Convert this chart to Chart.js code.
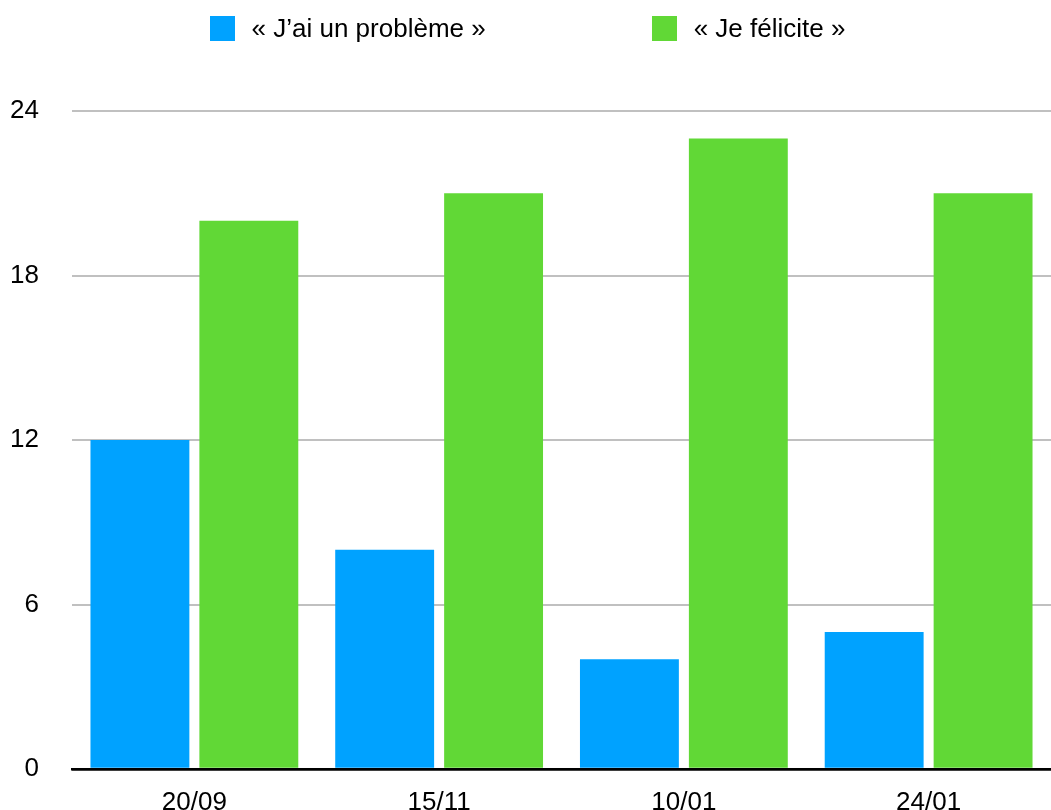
<!DOCTYPE html>
<html>
<head>
<meta charset="utf-8">
<script src="https://cdn.jsdelivr.net/npm/chart.js@4"></script>
<style>
    html, body { margin: 0; padding: 0; background: #fff; }
    #wrap { position: relative; width: 1051px; height: 810px; }
    #legend {
        position: absolute; top: 16px; left: 2px; width: 1051px;
        display: flex; justify-content: center; gap: 166px;
        font-family: "Liberation Sans", Arial, sans-serif; font-size: 26px; color: #000;
    }
    .item { display: flex; align-items: center; height: 25px; }
    .box { width: 25px; height: 25px; margin-right: 17px; }
</style>
</head>
<body>
<div id="wrap">
    <div id="legend"></div>
    <canvas id="barChart" width="1051" height="810"></canvas>
</div>
<script>
const categories = ['20/09', '15/11', '10/01', '24/01'];
const seriesNames = ['« J’ai un problème »', '« Je félicite »'];
const probleme = [12, 8, 4, 5];
const felicite = [20, 21, 23, 21];
const seriesColors = ['#00A2FF', '#61D836'];

// legende en HTML pour garder l'espacement du modele
const legendEl = document.getElementById('legend');
seriesNames.forEach((name, i) => {
    const item = document.createElement('div');
    item.className = 'item';
    item.innerHTML = `<span class="box" style="background:${seriesColors[i]}"></span><span>${name}</span>`;
    legendEl.appendChild(item);
});

const font = { family: '"Liberation Sans", Arial, sans-serif', size: 26 };

const ctx = document.getElementById('barChart').getContext('2d');
new Chart(ctx, {
    type: 'bar',
    data: {
        labels: categories,
        datasets: [
            {
                label: seriesNames[0],
                data: probleme,
                backgroundColor: seriesColors[0]
            },
            {
                label: seriesNames[1],
                data: felicite,
                backgroundColor: seriesColors[1]
            }
        ]
    },
    options: {
        responsive: false,
        animation: false,
        datasets: {
            bar: {
                categoryPercentage: 0.89,
                barPercentage: 0.908
            }
        },
        layout: {
            padding: { top: 111, right: 0, bottom: 0, left: 0 }
        },
        plugins: {
            legend: { display: false },
            tooltip: { enabled: false }
        },
        scales: {
            x: {
                afterFit: scale => { scale.height = 41; },
                grid: { display: false },
                border: { display: true, color: '#000', width: 2.5 },
                ticks: { color: '#000', font: font, padding: 10 }
            },
            y: {
                min: 0,
                max: 24,
                // largeur fixe, et pas de marge verticale due au padding des ticks
                afterFit: scale => {
                    scale.width = 72;
                    scale.paddingTop = 16;
                    scale.paddingBottom = 16;
                },
                grid: {
                    color: c => c.tick.value === 0 ? '#000' : '#c0c0c0',
                    lineWidth: c => c.tick.value === 0 ? 2.5 : 2,
                    drawTicks: false
                },
                border: { display: false },
                ticks: { stepSize: 6, color: '#000', font: font, padding: 33 }
            }
        }
    }
});
</script>
</body>
</html>
